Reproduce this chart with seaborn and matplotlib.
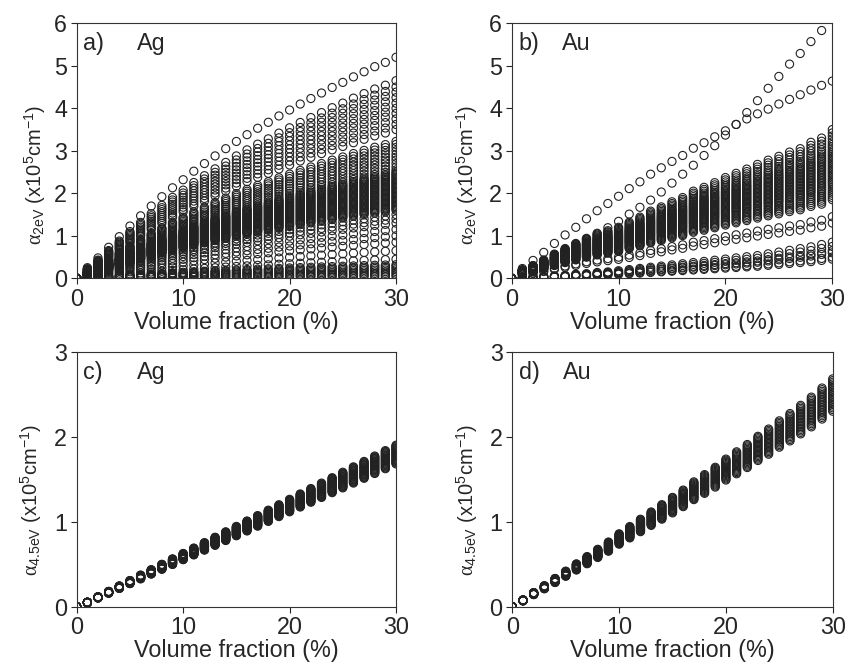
import numpy as np
import pandas as pd
import matplotlib
matplotlib.use("Agg")
import matplotlib.pyplot as plt
import seaborn as sns

sns.set_style("ticks")
plt.rcParams['font.family'] = ['Liberation Sans', 'DejaVu Sans']
plt.rcParams['mathtext.fontset'] = 'custom'
plt.rcParams['mathtext.rm'] = 'Liberation Sans'
plt.rcParams['mathtext.it'] = 'Liberation Serif'
plt.rcParams['mathtext.sf'] = 'Liberation Sans'

# volume fraction (%)
vol_frac = list(range(0, 31))

# panel a) Ag, 2 eV : shape of the top series and the end values (x=30) of all series
ag_2ev_shape = [0, 0.25, 0.48, 0.73, 0.98, 1.23, 1.47, 1.70, 1.92, 2.13, 2.32, 2.52, 2.70, 2.88,
                3.05, 3.22, 3.38, 3.53, 3.67, 3.82, 3.96, 4.10, 4.23, 4.36, 4.49, 4.61, 4.74,
                4.86, 4.98, 5.08, 5.20]
ag_2ev_ends = [5.2, 4.65, 4.5, 4.38, 4.25, 4.12, 4.0, 3.88, 3.75, 3.62, 3.5, 3.22, 3.15, 3.08,
               3.0, 2.92, 2.85, 2.78, 2.7, 2.62, 2.55, 2.5, 2.47, 2.44, 2.41, 2.38, 2.35, 2.32,
               2.29, 2.26, 2.23, 2.2, 2.17, 2.14, 2.11, 2.08, 2.05, 2.02, 1.99, 1.96, 1.93, 1.9,
               1.87, 1.84, 1.81, 1.78, 1.75, 1.72, 1.69, 1.66, 1.63, 1.6, 1.5, 1.4, 1.3, 1.15,
               1.0, 0.85, 0.65, 0.45, 0.32, 0.28, 0.24, 0.2, 0.16, 0.12, 0.08, 0.04]

# panel b) Au, 2 eV
au_2ev_top1 = [0, 0.23, 0.42, 0.61, 0.82, 1.02, 1.20, 1.40, 1.59, 1.76, 1.93, 2.11, 2.27, 2.45,
               2.60, 2.75, 2.89, 3.06, 3.19, 3.33, 3.47, 3.62, 3.90, 4.18, 4.47, 4.75, 5.04,
               5.29, 5.57, 5.83, 6.15]
au_2ev_top2 = [0, 0.18, 0.27, 0.39, 0.55, 0.67, 0.80, 0.92, 1.06, 1.19, 1.34, 1.51, 1.67, 1.84,
               2.03, 2.24, 2.45, 2.66, 2.89, 3.12, 3.37, 3.62, 3.75, 3.87, 3.98, 4.10, 4.21,
               4.32, 4.43, 4.54, 4.64]
au_2ev_band_shape = [0, 0.20, 0.30, 0.43, 0.57, 0.70, 0.82, 0.94, 1.04, 1.12, 1.20, 1.32, 1.44,
                     1.58, 1.68, 1.80, 1.90, 2.05, 2.14, 2.25, 2.37, 2.47, 2.57, 2.68, 2.78,
                     2.87, 2.97, 3.05, 3.20, 3.30, 3.50]
au_2ev_band_ends = [3.5, 3.42, 3.35, 3.28, 3.21, 3.15, 3.1, 3.05, 3.0, 2.96, 2.92, 2.88, 2.84,
                    2.8, 2.76, 2.72, 2.68, 2.64, 2.6, 2.56, 2.52, 2.48, 2.44, 2.4, 2.36, 2.32,
                    2.28, 2.24, 2.2, 2.15, 2.1, 2.05, 2.0, 1.95, 1.9, 1.85, 1.45, 1.3]
au_2ev_low_shape = [0, 0.01, 0.02, 0.03, 0.04, 0.05, 0.07, 0.08, 0.10, 0.11, 0.13, 0.15, 0.17,
                    0.19, 0.21, 0.23, 0.25, 0.27, 0.29, 0.31, 0.33, 0.35, 0.37, 0.39, 0.42,
                    0.45, 0.48, 0.51, 0.54, 0.58, 0.62]
au_2ev_low_ends = [0.45, 0.5, 0.6, 0.65, 0.75, 0.85]

# panel c) Ag, 4.5 eV
ag_45ev_shape = [0, 0.05, 0.11, 0.17, 0.23, 0.29, 0.35, 0.41, 0.47, 0.53, 0.59, 0.65, 0.71,
                 0.77, 0.83, 0.89, 0.95, 1.01, 1.07, 1.13, 1.19, 1.25, 1.31, 1.37, 1.43, 1.49,
                 1.55, 1.61, 1.67, 1.73, 1.79]
ag_45ev_ends = [1.68, 1.69, 1.70, 1.71, 1.72, 1.73, 1.74, 1.75, 1.76, 1.77, 1.78, 1.79, 1.80,
                1.81, 1.82, 1.83, 1.84, 1.85, 1.86, 1.87, 1.88, 1.89, 1.90]

# panel d) Au, 4.5 eV
au_45ev_shape = [0, 0.075, 0.155, 0.23, 0.31, 0.39, 0.47, 0.55, 0.63, 0.71, 0.80, 0.88, 0.96,
                 1.04, 1.12, 1.20, 1.28, 1.37, 1.45, 1.53, 1.62, 1.70, 1.78, 1.87, 1.95, 2.04,
                 2.12, 2.21, 2.30, 2.40, 2.50]
au_45ev_ends = [2.30, 2.32, 2.34, 2.36, 2.38, 2.40, 2.42, 2.44, 2.46, 2.48, 2.50, 2.52, 2.54,
                2.56, 2.58, 2.60, 2.62, 2.64, 2.66, 2.68]


def build(shape, ends):
    shape = np.array(shape)
    rows = []
    for e in ends:
        for x, y in zip(vol_frac, shape * e / shape[-1]):
            rows.append((x, y))
    return rows


def to_df(rows):
    return pd.DataFrame(rows, columns=['x', 'y'])


df_a = to_df(build(ag_2ev_shape, ag_2ev_ends))
df_b = to_df(build(au_2ev_band_shape, au_2ev_band_ends)
             + build(au_2ev_low_shape, au_2ev_low_ends)
             + list(zip(vol_frac, au_2ev_top1)) + list(zip(vol_frac, au_2ev_top2)))
df_c = to_df(build(ag_45ev_shape, ag_45ev_ends))
df_d = to_df(build(au_45ev_shape, au_45ev_ends))

FS = 16.8
fig = plt.figure(figsize=(8.46, 6.62), dpi=100)
positions = [[0.0907, 0.5796, 0.3774, 0.3852], [0.6048, 0.5796, 0.3790, 0.3852],
             [0.0907, 0.0835, 0.3774, 0.3852], [0.6056, 0.0835, 0.3787, 0.3852]]
ylab_2 = r'$\alpha_{\mathrm{2eV}}$ (x10$^{\mathrm{5}}$cm$^{\mathrm{-1}}$)'
ylab_45 = r'$\alpha_{\mathrm{4.5eV}}$ (x10$^{\mathrm{5}}$cm$^{\mathrm{-1}}$)'
panels = [(df_a, 'a)', 'Ag', 6, ylab_2, 0.19, 0.407, 4),
          (df_b, 'b)', 'Au', 6, ylab_2, 0.156, 0.407, 6),
          (df_c, 'c)', 'Ag', 3, ylab_45, 0.19, 0.418, 7),
          (df_d, 'd)', 'Au', 3, ylab_45, 0.157, 0.418, 7)]

for pos, (d, tag, metal, ymax, ylab, mx, ly, lp) in zip(positions, panels):
    ax = fig.add_axes(pos)
    sns.scatterplot(data=d, x='x', y='y', ax=ax, marker='o', s=34,
                    facecolors='none', edgecolor='#222222', linewidth=0.8)
    ax.set_xlim(0, 30)
    ax.set_ylim(0, ymax)
    ax.set_xticks([0, 10, 20, 30])
    ax.set_yticks(range(0, ymax + 1))
    ax.tick_params(labelsize=FS, length=4, width=0.8, pad=3)
    for sp in ax.spines.values():
        sp.set_linewidth(0.8)
        sp.set_color('#333333')
    ax.set_xlabel('Volume fraction (%)', fontsize=FS, labelpad=0)
    ax.set_ylabel(ylab, fontsize=14.5, labelpad=lp)
    ax.yaxis.label.set_y(ly)
    ax.text(0.02, 0.92, tag, transform=ax.transAxes, fontsize=FS, va='center', ha='left')
    ax.text(mx, 0.92, metal, transform=ax.transAxes, fontsize=FS, va='center', ha='left')

fig.savefig('out.png', dpi=100)
